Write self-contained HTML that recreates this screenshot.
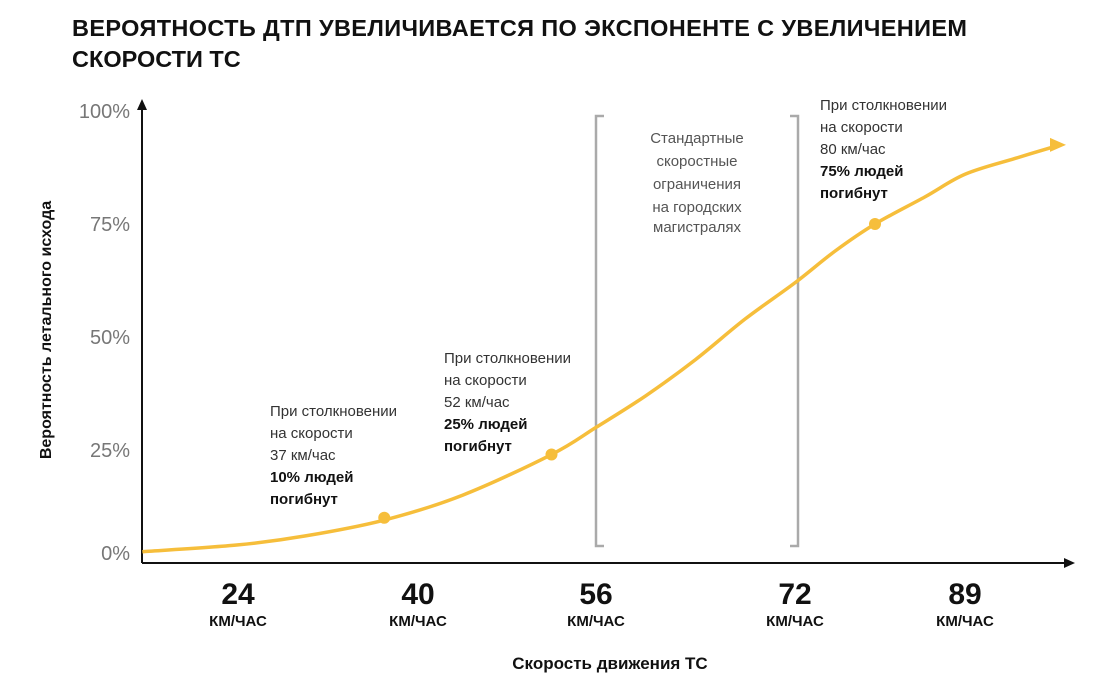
<!DOCTYPE html>
<html><head><meta charset="utf-8"><style>
body{margin:0;background:#fff;font-family:"Liberation Sans",Arial,sans-serif;}
svg text{font-family:"Liberation Sans",Arial,sans-serif;}
</style></head><body>
<svg id="chart" width="1100" height="683" viewBox="0 0 1100 683" xmlns="http://www.w3.org/2000/svg">
<text x="72" y="36" font-size="23.5" font-weight="bold" fill="#111" textLength="895">ВЕРОЯТНОСТЬ ДТП УВЕЛИЧИВАЕТСЯ ПО ЭКСПОНЕНТЕ С УВЕЛИЧЕНИЕМ</text>
<text x="72" y="67" font-size="23.5" font-weight="bold" fill="#111">СКОРОСТИ ТС</text>
<g id="axes"></g>
<g id="bracket" stroke="#aaa" stroke-width="2.5" fill="none">
<path d="M604 116 H596 V546 H604"/><path d="M790 116 H798 V546 H790"/>
</g>
<text font-size="15" fill="#555" text-anchor="middle">
<tspan x="697" y="143">Стандартные</tspan><tspan x="697" y="166">скоростные</tspan><tspan x="697" y="189">ограничения</tspan><tspan x="697" y="212">на городских</tspan><tspan x="697" y="232">магистралях</tspan></text>
<g id="marks"></g>
<g id="notes"></g>
<text transform="translate(51,330) rotate(-90)" font-size="16" font-weight="bold" fill="#111" text-anchor="middle">Вероятность летального исхода</text>
<text x="610" y="669" font-size="17" font-weight="bold" fill="#111" text-anchor="middle">Скорость движения ТС</text>
</svg>
<script>
const yTicks=[0,25,50,75,100];
const xTicks=[24,40,56,72,89];
const curveSpeed=[15.5,24,30,37,44,52,56,60,64,68,72,76,80,85,89,94,98.5];
const curvePct=[2.5,4,6,9.5,15,24,30,37,45,54,62,69,75,81,86,89.5,92.5];
const pointSpeed=[37,52,80];
const pointPct=[10,24,75];
const noteLines=[["При столкновении","на скорости","37 км/час"],["При столкновении","на скорости","52 км/час"],["При столкновении","на скорости","80 км/час"]];
const noteBold=[["10% людей","погибнут"],["25% людей","погибнут"],["75% людей","погибнут"]];
const NS="http://www.w3.org/2000/svg";
const axD=[24,40,56,72,89],axR=[238,418,596,795,965];
function X(v){let i=0;if(v<=axD[0])i=0;else if(v>=axD[4])i=3;else{while(v>axD[i+1])i++;}
return axR[i]+(v-axD[i])*(axR[i+1]-axR[i])/(axD[i+1]-axD[i]);}
function Y(p){return 563-p*4.52;}
function mk(tag,attrs,parent){const e=document.createElementNS(NS,tag);for(const k in attrs)e.setAttribute(k,attrs[k]);parent.appendChild(e);return e;}
const axes=document.getElementById('axes');
let yl=mk('line',{x1:142,y1:108,x2:142,y2:563,stroke:'#111','stroke-width':2},axes);


let ya=mk('path',{d:'M137 110 L142 99 L147 110Z',fill:'#111'},axes);


let xl=mk('line',{x1:142,y1:563,x2:1066,y2:563,stroke:'#111','stroke-width':2},axes);


let xa=mk('path',{d:'M1064 558 L1075 563 L1064 568Z',fill:'#111'},axes);


yTicks.forEach(t=>{const tx=mk('text',{x:130,y:(t===0?Y(t)-10:Y(t))+7,'font-size':20,fill:'#777','text-anchor':'end'},axes);tx.textContent=t+'%';

});
xTicks.forEach(t=>{const g=mk('g',{},axes);


const a=mk('text',{x:X(t),y:604,'font-size':30,'font-weight':'bold',fill:'#111','text-anchor':'middle'},g);a.textContent=t;
const b=mk('text',{x:X(t),y:626,'font-size':15,'font-weight':'bold',fill:'#111','text-anchor':'middle'},g);b.textContent='КМ/ЧАС';});
const marks=document.getElementById('marks');
const pts=curveSpeed.map((s,i)=>[Math.max(142,X(s)),Y(curvePct[i])]);
let d='M'+pts[0][0]+' '+pts[0][1];
for(let i=0;i<pts.length-1;i++){const p0=pts[Math.max(0,i-1)],p1=pts[i],p2=pts[i+1],p3=pts[Math.min(pts.length-1,i+2)];
d+=' C'+(p1[0]+(p2[0]-p0[0])/6)+' '+(p1[1]+(p2[1]-p0[1])/6)+' '+(p2[0]-(p3[0]-p1[0])/6)+' '+(p2[1]-(p3[1]-p1[1])/6)+' '+p2[0]+' '+p2[1];}
let c=mk('path',{d:d,fill:'none',stroke:'#f6be3b','stroke-width':3.5},marks);


const e=pts[pts.length-1];
let ah=mk('path',{d:`M${e[0]-10} ${e[1]-7} L${e[0]+6} ${e[1]} L${e[0]-10} ${e[1]+7}Z`,fill:'#f6be3b'},marks);


const notes=document.getElementById('notes');
const noteX=[270,444,820],noteY=[416,363,110];
pointSpeed.forEach((s,i)=>{const ci=mk('circle',{cx:X(s),cy:Y(pointPct[i]),r:6,fill:'#f6be3b'},marks);


const t=mk('text',{'font-size':15,fill:'#333'},notes);


noteLines[i].forEach((l,j)=>{const ts=mk('tspan',{x:noteX[i],y:noteY[i]+j*22},t);ts.textContent=l;});
noteBold[i].forEach((l,j)=>{const ts=mk('tspan',{x:noteX[i],y:noteY[i]+(3+j)*22,'font-weight':'bold',fill:'#111'},t);ts.textContent=l;});});
</script>
</body></html>
